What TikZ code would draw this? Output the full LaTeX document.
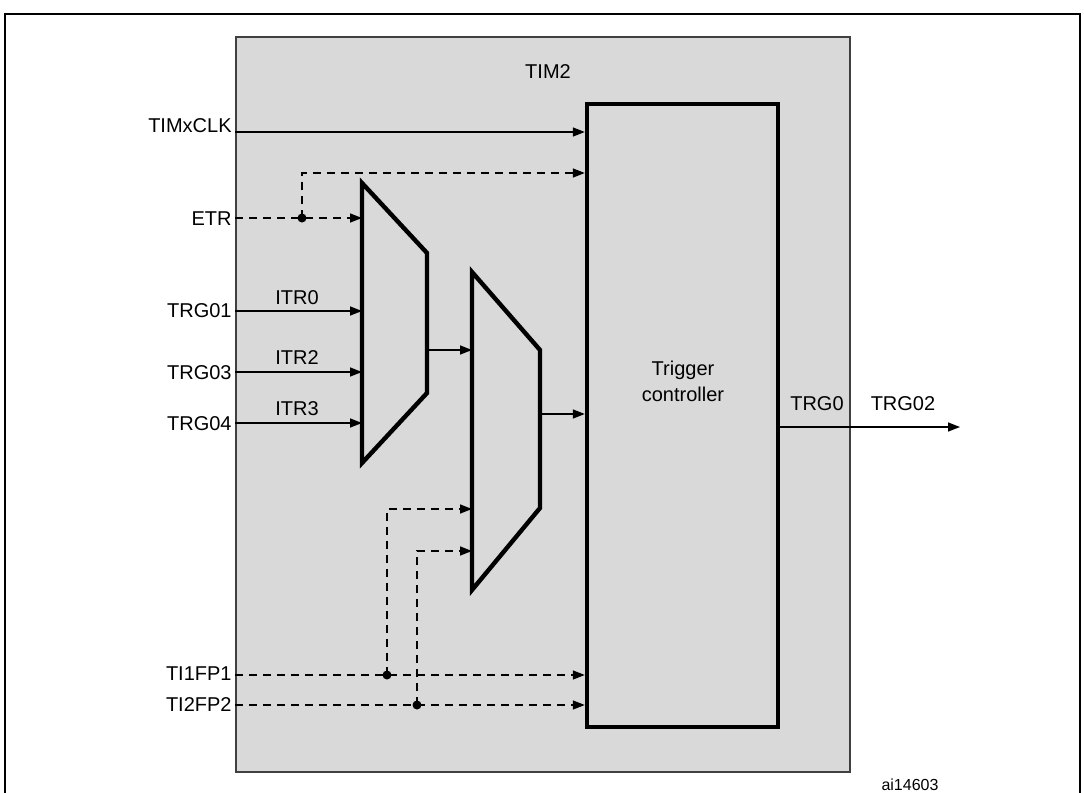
\documentclass[tikz,border=0pt]{standalone}
\usepackage{fontspec}
\setmainfont{Liberation Sans}
\usetikzlibrary{arrows.meta, positioning, calc}

\begin{document}
\begin{tikzpicture}[x=0.5pt, y=-0.5pt, font=\fontsize{10}{11}\selectfont,
  >={Triangle[length=6pt,width=4.5pt]},
  lbl/.style  = {anchor=east, inner sep=0pt},
  itr/.style  = {inner sep=0pt},
  sig/.style  = {line width=0.75pt, ->},
  dsig/.style = {sig, dash pattern=on 4pt off 3pt},
  tbox/.style = {draw=black!75, line width=0.75pt, fill=black!15, inner sep=0pt,
                 minimum width=307pt, minimum height=367.5pt},
  ctrl/.style = {draw, line width=2.2pt, fill=black!15, inner sep=0pt,
                 minimum width=95.5pt, minimum height=311.5pt},
  mux/.style  = {draw, line width=2.2pt, fill=black!15, line join=miter},
  junc/.style = {circle, fill, inner sep=0pt, minimum size=4.5pt}
]
\useasboundingbox (0,0) rectangle (1084,793);

%% Outer frame (open at the bottom)
\draw[line width=1pt] (5,793) -- (5,14) -- (1080,14) -- (1080,793);

%% TIM2 block
\node[tbox] (tim) at (543,404.5) {};
\node (timname) at (548,72) {TIM2};

%% Trigger controller
\node[ctrl] (trig) at (682.5,415.5) {};
\node[align=center] (trigtxt) at (683,381) {Trigger\\[2pt]controller};

%% --- Multiplexers ---
\draw[mux] (362,183) -- (427,253) -- (427,393) -- (362,463) -- cycle;
\draw[mux] (472,272) -- (540,350) -- (540,508) -- (472,590) -- cycle;
\coordinate (m1etr) at (362,218);
\coordinate (m1i0)  at (362,311);
\coordinate (m1i2)  at (362,372);
\coordinate (m1i3)  at (362,423);
\coordinate (m1out) at (427,350);
\coordinate (m2in)  at (472,350);
\coordinate (m2t1)  at (472,509);
\coordinate (m2t2)  at (472,551);
\coordinate (m2out) at (540,414);

%% --- Input labels ---
\node[lbl] (clk)  at (232,126) {TIMxCLK};
\node[lbl] (etr)  at (232,219) {ETR};
\node[lbl] (trg1) at (232,311) {TRG01};
\node[lbl] (trg3) at (232,373) {TRG03};
\node[lbl] (trg4) at (232,424) {TRG04};
\node[lbl] (ti1)  at (232,674) {TI1FP1};
\node[lbl] (ti2)  at (232,705) {TI2FP2};

\node[itr] (itr0) at (297,298) {ITR0};
\node[itr] (itr2) at (297,358) {ITR2};
\node[itr] (itr3) at (297,409) {ITR3};

%% --- Clock and internal triggers ---
\draw[sig] (tim.west |- 0,132) -- (trig.west |- 0,132);
\draw[sig] (tim.west |- m1i0) -- (m1i0);
\draw[sig] (tim.west |- m1i2) -- (m1i2);
\draw[sig] (tim.west |- m1i3) -- (m1i3);
\draw[sig] (m1out) -- (m2in);
\draw[sig] (m2out) -- (trig.west |- m2out);

%% --- ETR ---
\coordinate (etrk) at (302,173);
\draw[dsig] (tim.west |- m1etr) -- (m1etr);
\draw[dsig] (302,218) -- (etrk) -- (trig.west |- etrk);
\node[junc] (etrj) at (302,218) {};

%% --- TI1FP1 / TI2FP2 ---
\draw[dsig] (tim.west |- 0,675) -- (trig.west |- 0,675);
\draw[dsig] (tim.west |- 0,705) -- (trig.west |- 0,705);
\draw[dsig] (387,675) |- (m2t1);
\draw[dsig] (417,705) |- (m2t2);
\node[junc] (ti1j) at (387,675) {};
\node[junc] (ti2j) at (417,705) {};

%% --- Output ---
\coordinate (outend) at (960,427);
\draw[sig] (trig.east |- outend) -- (outend);
\node (trg0)  at (817,404) {TRG0};
\node (trg02) at (903,404) {TRG02};

\node[font=\fontsize{8}{9}\selectfont] (ref) at (910,785) {ai14603};
\end{tikzpicture}
\end{document}
